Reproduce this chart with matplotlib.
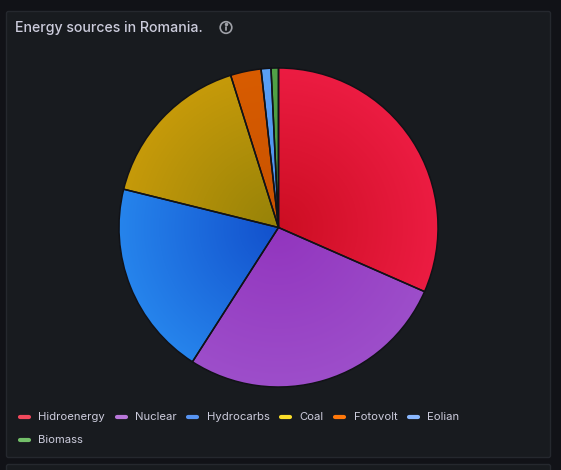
import numpy as np
import matplotlib
matplotlib.use("Agg")
import matplotlib.pyplot as plt
from matplotlib.patches import FancyBboxPatch, Circle
from matplotlib.colors import to_rgb

# ---- data ----
title = "Energy sources in Romania."
categories = ["Hidroenergy", "Nuclear", "Hydrocarbs", "Coal", "Fotovolt", "Eolian", "Biomass"]
values = [31.6, 27.5, 19.8, 16.3, 3.1, 1.0, 0.75]
legend_colors = ["#F2495C", "#B877D9", "#5794F2", "#FADE2A", "#FF780A", "#8AB8FF", "#73BF69"]
slice_edge_colors = ["#EC1C42", "#9D4ECA", "#2684EC", "#C69A0A", "#D85C00", "#5AA0F6", "#52A248"]
slice_center_colors = ["#CC0E22", "#9235BE", "#1250CC", "#968208", "#C85200", "#4A8EEA", "#459A3C"]

W, H = 561, 470
fig = plt.figure(figsize=(W / 100, H / 100), dpi=100)
fig.patch.set_facecolor("#111217")

def fx(x):
    return x / W

def fy(y):
    return 1 - y / H

# panel background
bg = fig.add_axes([0, 0, 1, 1])
bg.set_xlim(0, W)
bg.set_ylim(H, 0)
bg.axis("off")
bg.add_patch(FancyBboxPatch((6.5, 11.5), 544, 446, boxstyle="round,pad=0,rounding_size=2",
                            facecolor="#181b1f", edgecolor="#25282e", linewidth=1))
bg.add_patch(FancyBboxPatch((6.5, 464.5), 544, 20, boxstyle="round,pad=0,rounding_size=2",
                            facecolor="#181b1f", edgecolor="#25282e", linewidth=1))

font = "Inter"
txtcol = "#ccccdc"
bg.text(15, 28, title, fontsize=10.2, color=txtcol, fontfamily=font, fontweight="medium",
        va="center", ha="left")
bg.add_patch(Circle((226, 27.5), 5.8, facecolor="none", edgecolor="#9fa1a8", linewidth=1.2))
bg.plot([226, 226], [26.8, 30.3], color="#9fa1a8", lw=1.3, solid_capstyle="round")
bg.plot([226], [24.4], marker="o", ms=1.5, color="#9fa1a8")

# ---- pie ----
cx, cy, r = 278.5, 227.5, 159.5
ax = fig.add_axes([fx(cx - r), fy(cy + r), 2 * r / W, 2 * r / H])
ax.axis("off")

wedges, _ = ax.pie(values, radius=1, startangle=90, counterclock=False,
                   colors=slice_edge_colors, wedgeprops=dict(linewidth=0))

n = 400
xs = np.linspace(-1, 1, n)
X, Y = np.meshgrid(xs, xs[::-1])
R = np.clip(np.sqrt(X ** 2 + Y ** 2), 0, 1)
for w, c0, c1 in zip(wedges, slice_center_colors, slice_edge_colors):
    a = np.array(to_rgb(c0))
    b = np.array(to_rgb(c1))
    img = a[None, None, :] + (b - a)[None, None, :] * R[:, :, None]
    im = ax.imshow(img, extent=(-1, 1, -1, 1), zorder=2, interpolation="bilinear")
    im.set_clip_path(w)

outline, _ = ax.pie(values, radius=1, startangle=90, counterclock=False,
                    wedgeprops=dict(facecolor="none", edgecolor="#111217", linewidth=1.1))
for w in outline:
    w.set_zorder(3)
ax.set_xlim(-1, 1)
ax.set_ylim(-1, 1)

# ---- legend ----
renderer = fig.canvas.get_renderer()
x = 18.0
y = 417.0
for name, col in zip(categories, legend_colors):
    t = bg.text(0, 0, name, fontsize=8.1, color=txtcol, fontfamily=font, va="center", ha="left")
    tw = t.get_window_extent(renderer=renderer).width
    if x + 20.5 + tw > 500:
        x = 18.0
        y += 23
    bg.plot([x + 2, x + 11], [y, y], color=col, lw=3, solid_capstyle="round")
    t.set_position((x + 20.5, y))
    x = x + 20.5 + tw + 9.5

fig.savefig("out.png", dpi=100, facecolor=fig.get_facecolor())
